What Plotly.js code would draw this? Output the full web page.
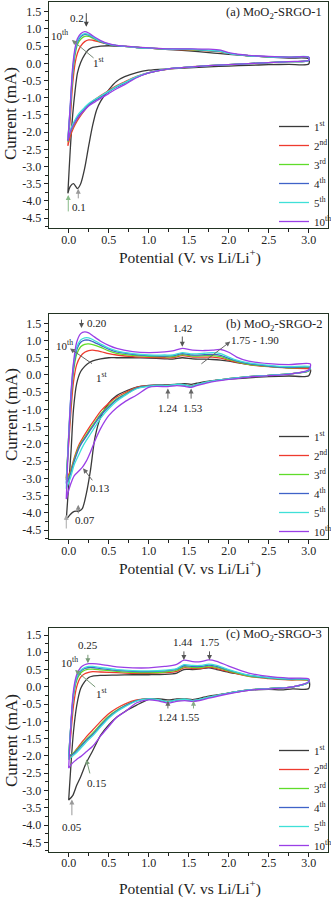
<!DOCTYPE html>
<html><head><meta charset="utf-8">
<script src="https://cdn.plot.ly/plotly-3.0.1.min.js"></script>
<style>html,body{margin:0;padding:0;background:#fff}#chart{width:331px;height:898px}</style>
</head><body><div id="chart"></div>
<script>
// ---------- data ----------
const cycleNames = ['1<sup>st</sup>','2<sup>nd</sup>','3<sup>rd</sup>','4<sup>th</sup>','5<sup>th</sup>','10<sup>th</sup>'];
const cycleColors = ['#3a3a3a','#ee3b2e','#5fdc2a','#3f63c8','#3fe0d8','#9a3fe6'];

const xTickVals = [0,0.5,1,1.5,2,2.5,3];
const xTickText = ['0.0','0.5','1.0','1.5','2.0','2.5','3.0'];
const yTickVals = [1.5,1,0.5,0,-0.5,-1,-1.5,-2,-2.5,-3,-3.5,-4,-4.5];
const yTickText = ['1.5','1.0','0.5','0.0','-0.5','-1.0','-1.5','-2.0','-2.5','-3.0','-3.5','-4.0','-4.5'];

// Panel (a) MoO2-SRGO-1
const potCathA = [3.0,2.75,2.5,2.25,2.0,1.75,1.5,1.25,1.0,0.85,0.7,0.6,0.5,0.4,0.35,0.3,0.25,0.2,0.15,0.11,0.06,0.02,-0.01];
const potAnodA = [-0.01,0.02,0.05,0.08,0.11,0.15,0.2,0.25,0.3,0.4,0.5,0.6,0.7,0.85,1.0,1.25,1.5,1.75,1.9,2.0,2.25,2.5,2.75,3.0];
const a1Cath  = [-0.02,-0.03,-0.04,-0.06,-0.08,-0.10,-0.13,-0.16,-0.20,-0.27,-0.39,-0.52,-0.77,-1.10,-1.35,-1.80,-2.40,-3.05,-3.50,-3.64,-3.50,-3.58,-3.78];
const a1Anod  = [-3.78,-2.50,-1.50,-0.80,-0.28,0.02,0.25,0.40,0.46,0.50,0.51,0.50,0.49,0.47,0.44,0.40,0.36,0.31,0.28,0.26,0.22,0.18,0.15,0.13];
const a2Cath  = [0.08,0.05,0.02,-0.01,-0.04,-0.07,-0.11,-0.17,-0.27,-0.38,-0.54,-0.65,-0.79,-0.94,-1.02,-1.10,-1.21,-1.36,-1.52,-1.66,-1.88,-2.12,-2.40];
const a2Anod  = [-2.40,-1.60,-0.60,0.00,0.30,0.50,0.63,0.68,0.67,0.61,0.55,0.51,0.49,0.46,0.44,0.41,0.39,0.36,0.33,0.29,0.22,0.19,0.17,0.17];
const a3Cath  = [0.08,0.05,0.02,-0.01,-0.04,-0.07,-0.11,-0.16,-0.28,-0.40,-0.57,-0.68,-0.82,-0.97,-1.04,-1.12,-1.22,-1.35,-1.48,-1.60,-1.82,-2.02,-2.28];
const a3Anod  = [-2.28,-1.35,-0.35,0.25,0.55,0.70,0.78,0.78,0.73,0.62,0.55,0.51,0.49,0.46,0.44,0.41,0.40,0.37,0.34,0.29,0.22,0.19,0.17,0.17];
const a4Cath  = [0.08,0.05,0.02,-0.01,-0.04,-0.07,-0.11,-0.16,-0.28,-0.40,-0.58,-0.69,-0.83,-0.98,-1.05,-1.12,-1.21,-1.33,-1.45,-1.57,-1.78,-1.98,-2.25];
const a4Anod  = [-2.25,-1.30,-0.25,0.33,0.62,0.77,0.84,0.82,0.76,0.63,0.55,0.51,0.49,0.46,0.44,0.41,0.41,0.37,0.35,0.29,0.22,0.19,0.17,0.17];
const a5Cath  = [0.08,0.05,0.02,-0.01,-0.04,-0.07,-0.11,-0.16,-0.27,-0.39,-0.56,-0.67,-0.81,-0.95,-1.02,-1.09,-1.17,-1.28,-1.40,-1.52,-1.73,-1.94,-2.20];
const a5Anod  = [-2.20,-1.25,-0.20,0.38,0.66,0.80,0.86,0.84,0.77,0.64,0.56,0.52,0.49,0.46,0.44,0.41,0.41,0.38,0.35,0.29,0.22,0.19,0.18,0.18];
const a10Cath = [0.09,0.05,0.02,-0.01,-0.04,-0.07,-0.11,-0.16,-0.28,-0.42,-0.62,-0.74,-0.88,-1.02,-1.09,-1.16,-1.24,-1.36,-1.48,-1.60,-1.80,-2.00,-2.25];
const a10Anod = [-2.25,-1.20,-0.10,0.45,0.72,0.86,0.92,0.88,0.80,0.66,0.57,0.52,0.50,0.47,0.45,0.42,0.42,0.41,0.38,0.31,0.23,0.20,0.18,0.18];

// Panel (b) MoO2-SRGO-2
const potCathB = [3.0,2.75,2.5,2.25,2.0,1.75,1.6,1.53,1.45,1.35,1.24,1.1,1.0,0.85,0.7,0.6,0.5,0.4,0.33,0.27,0.22,0.17,0.13,0.07,0.02,-0.03];
const potAnodB = [-0.03,0.0,0.03,0.06,0.1,0.15,0.2,0.25,0.3,0.4,0.5,0.6,0.8,1.0,1.2,1.3,1.42,1.55,1.7,1.8,1.9,2.0,2.1,2.25,2.5,2.75,3.02];
const b1Cath  = [-0.02,-0.03,-0.05,-0.08,-0.12,-0.18,-0.24,-0.27,-0.25,-0.27,-0.29,-0.29,-0.30,-0.35,-0.48,-0.60,-0.82,-1.22,-1.80,-2.80,-3.45,-3.88,-3.95,-3.96,-4.05,-4.20];
const b1Anod  = [-4.20,-3.20,-2.20,-1.00,-0.25,0.10,0.25,0.35,0.41,0.47,0.50,0.50,0.50,0.49,0.47,0.46,0.50,0.47,0.46,0.45,0.43,0.40,0.36,0.31,0.25,0.21,0.17];
const b2Cath  = [0.12,0.03,-0.01,-0.05,-0.11,-0.19,-0.28,-0.33,-0.29,-0.27,-0.31,-0.30,-0.31,-0.36,-0.52,-0.64,-0.82,-1.05,-1.28,-1.48,-1.66,-1.85,-2.02,-2.40,-2.80,-3.00];
const b2Anod  = [-3.00,-2.00,-1.00,-0.20,0.30,0.55,0.66,0.71,0.72,0.68,0.62,0.58,0.53,0.51,0.50,0.50,0.56,0.52,0.52,0.52,0.49,0.43,0.37,0.30,0.24,0.20,0.17];
const b3Cath  = [0.12,0.03,-0.01,-0.05,-0.11,-0.19,-0.28,-0.33,-0.29,-0.27,-0.31,-0.30,-0.32,-0.38,-0.56,-0.69,-0.89,-1.13,-1.36,-1.56,-1.74,-1.92,-2.08,-2.45,-2.85,-3.05];
const b3Anod  = [-3.05,-1.80,-0.70,0.10,0.60,0.82,0.89,0.90,0.88,0.80,0.70,0.63,0.57,0.54,0.53,0.53,0.59,0.55,0.56,0.56,0.53,0.45,0.39,0.31,0.25,0.21,0.20];
const b4Cath  = [0.12,0.03,-0.01,-0.05,-0.11,-0.19,-0.28,-0.33,-0.29,-0.27,-0.31,-0.30,-0.32,-0.38,-0.58,-0.72,-0.93,-1.17,-1.40,-1.60,-1.78,-1.95,-2.12,-2.50,-2.90,-3.15];
const b4Anod  = [-3.15,-1.80,-0.60,0.20,0.72,0.95,1.01,1.01,0.97,0.86,0.75,0.67,0.60,0.56,0.55,0.56,0.62,0.58,0.59,0.60,0.57,0.48,0.41,0.33,0.26,0.22,0.22];
const b5Cath  = [0.13,0.03,-0.01,-0.05,-0.11,-0.19,-0.28,-0.33,-0.29,-0.27,-0.31,-0.30,-0.33,-0.40,-0.60,-0.76,-0.98,-1.25,-1.50,-1.72,-1.90,-2.10,-2.30,-2.60,-3.00,-3.30];
const b5Anod  = [-3.30,-1.70,-0.50,0.30,0.80,1.02,1.08,1.08,1.03,0.90,0.78,0.70,0.62,0.58,0.58,0.58,0.65,0.61,0.63,0.65,0.62,0.52,0.43,0.35,0.28,0.24,0.24];
const b10Cath = [0.15,0.02,-0.02,-0.06,-0.13,-0.22,-0.31,-0.36,-0.33,-0.31,-0.34,-0.33,-0.36,-0.58,-0.78,-0.95,-1.18,-1.55,-1.90,-2.25,-2.50,-2.68,-2.78,-2.92,-3.20,-3.60];
const b10Anod = [-3.60,-1.80,-0.50,0.35,0.95,1.20,1.25,1.22,1.14,0.98,0.86,0.77,0.68,0.65,0.67,0.70,0.77,0.72,0.71,0.72,0.74,0.66,0.52,0.40,0.33,0.30,0.32];

// Panel (c) MoO2-SRGO-3
const potCathC = [3.0,2.8,2.65,2.5,2.25,2.0,1.75,1.6,1.55,1.45,1.35,1.24,1.1,1.0,0.85,0.7,0.6,0.5,0.4,0.3,0.22,0.15,0.1,0.05,0.0];
const potAnodC = [0.0,0.03,0.06,0.1,0.15,0.2,0.25,0.3,0.4,0.6,0.8,1.0,1.2,1.35,1.44,1.55,1.65,1.75,1.85,2.0,2.25,2.5,2.75,3.0];
const c1Cath  = [-0.05,-0.06,-0.09,-0.07,-0.10,-0.18,-0.27,-0.35,-0.37,-0.35,-0.35,-0.38,-0.34,-0.36,-0.53,-0.72,-0.88,-1.10,-1.40,-1.85,-2.20,-2.60,-2.85,-3.15,-3.28];
const c1Anod  = [-3.28,-2.20,-1.30,-0.55,-0.05,0.15,0.27,0.31,0.33,0.34,0.35,0.35,0.36,0.40,0.50,0.50,0.52,0.55,0.50,0.42,0.33,0.26,0.22,0.19];
const c2Cath  = [0.13,0.00,-0.03,-0.05,-0.09,-0.18,-0.30,-0.38,-0.40,-0.36,-0.38,-0.43,-0.36,-0.34,-0.38,-0.50,-0.62,-0.78,-1.00,-1.25,-1.45,-1.65,-1.80,-1.95,-2.10];
const c2Anod  = [-2.10,-1.30,-0.55,0.00,0.28,0.38,0.42,0.44,0.43,0.41,0.39,0.39,0.41,0.45,0.55,0.53,0.53,0.57,0.53,0.44,0.30,0.24,0.20,0.18];
const c3Cath  = [0.13,0.00,-0.03,-0.05,-0.09,-0.18,-0.30,-0.38,-0.40,-0.36,-0.38,-0.43,-0.36,-0.35,-0.40,-0.55,-0.68,-0.85,-1.08,-1.34,-1.52,-1.70,-1.82,-1.94,-2.00];
const c3Anod  = [-2.00,-1.05,-0.28,0.18,0.40,0.48,0.51,0.51,0.49,0.45,0.42,0.41,0.43,0.48,0.58,0.56,0.56,0.60,0.56,0.46,0.31,0.25,0.21,0.19];
const c4Cath  = [0.13,0.00,-0.03,-0.05,-0.09,-0.18,-0.30,-0.38,-0.40,-0.36,-0.38,-0.43,-0.36,-0.35,-0.40,-0.56,-0.70,-0.88,-1.12,-1.38,-1.55,-1.73,-1.85,-1.96,-2.00];
const c4Anod  = [-2.00,-1.00,-0.22,0.25,0.45,0.53,0.56,0.56,0.53,0.48,0.45,0.44,0.46,0.51,0.61,0.59,0.59,0.63,0.59,0.48,0.33,0.26,0.22,0.20];
const c5Cath  = [0.14,0.00,-0.03,-0.05,-0.09,-0.18,-0.30,-0.38,-0.40,-0.36,-0.38,-0.43,-0.36,-0.35,-0.41,-0.58,-0.72,-0.91,-1.16,-1.42,-1.60,-1.78,-1.90,-2.00,-2.10];
const c5Anod  = [-2.10,-1.00,-0.20,0.28,0.48,0.56,0.59,0.59,0.56,0.50,0.47,0.46,0.48,0.53,0.64,0.62,0.62,0.66,0.62,0.50,0.34,0.27,0.23,0.21];
const c10Cath = [0.15,0.00,-0.04,-0.06,-0.10,-0.20,-0.33,-0.41,-0.42,-0.40,-0.42,-0.47,-0.40,-0.38,-0.46,-0.73,-0.88,-1.15,-1.42,-1.72,-1.88,-2.02,-2.10,-2.20,-2.35];
const c10Anod = [-2.35,-1.00,-0.10,0.35,0.56,0.64,0.67,0.67,0.65,0.58,0.55,0.55,0.59,0.65,0.77,0.73,0.73,0.78,0.74,0.60,0.40,0.30,0.25,0.23];

// ---------- build ----------
const FONT = 'Liberation Serif, Times New Roman, serif';
const panels = [
  {potC: potCathA, potA: potAnodA, cath: [a1Cath,a2Cath,a3Cath,a4Cath,a5Cath,a10Cath], anod: [a1Anod,a2Anod,a3Anod,a4Anod,a5Anod,a10Anod], xa:'x', ya:'y', lg:'legend'},
  {potC: potCathB, potA: potAnodB, cath: [b1Cath,b2Cath,b3Cath,b4Cath,b5Cath,b10Cath], anod: [b1Anod,b2Anod,b3Anod,b4Anod,b5Anod,b10Anod], xa:'x2', ya:'y2', lg:'legend2'},
  {potC: potCathC, potA: potAnodC, cath: [c1Cath,c2Cath,c3Cath,c4Cath,c5Cath,c10Cath], anod: [c1Anod,c2Anod,c3Anod,c4Anod,c5Anod,c10Anod], xa:'x3', ya:'y3', lg:'legend3'}
];
const traces = [];
panels.forEach(p => {
  for (let i = 0; i < 6; i++) {
    traces.push({
      type: 'scatter', mode: 'lines',
      x: p.potC.concat(p.potA, [p.potC[0]]),
      y: p.cath[i].concat(p.anod[i], [p.cath[i][0]]),
      name: cycleNames[i],
      line: {color: cycleColors[i], width: 1.3, shape: 'spline', smoothing: 0.8},
      xaxis: p.xa, yaxis: p.ya, legend: p.lg
    });
  }
});

function xa(anchor) {
  return {anchor: anchor, range: [-0.246, 3.241], tickvals: xTickVals, ticktext: xTickText,
    ticks: 'outside', ticklen: 4, tickwidth: 1, tickcolor: '#222', ticklabelstandoff: -4,
    minor: {tickvals: [-0.25,0.25,0.75,1.25,1.75,2.25,2.75], ticks: 'outside', ticklen: 2.5, tickcolor: '#222'},
    showline: true, mirror: true, linecolor: '#223322', linewidth: 1.3,
    showgrid: false, zeroline: false, tickfont: {family: FONT, size: 12, color: '#222'}};
}
function ya(anchor, dom, rng) {
  return {anchor: anchor, domain: dom, range: rng, tickvals: yTickVals, ticktext: yTickText,
    ticks: 'outside', ticklen: 4, tickwidth: 1, tickcolor: '#222',
    minor: {tickvals: [1.25,0.75,0.25,-0.25,-0.75,-1.25,-1.75,-2.25,-2.75,-3.25,-3.75,-4.25,-4.75], ticks: 'outside', ticklen: 2.5, tickcolor: '#222'},
    showline: true, mirror: true, linecolor: '#223322', linewidth: 1.3,
    showgrid: false, zeroline: false, tickfont: {family: FONT, size: 12, color: '#222'}};
}
const H = 898, L = 49, PW = 279;
const px2x = v => (v - L) / PW;
const py2y = v => 1 - v / H;
function leg(ytop) {
  return {x: px2x(274), y: ytop, xanchor: 'left', yanchor: 'top', bgcolor: 'rgba(0,0,0,0)',
    font: {family: FONT, size: 11, color: '#222'}, tracegroupgap: 0};
}

const ann = [];
function label(t, x, y, xr, yr, size) {
  ann.push({text: t, x: x, y: y, xref: xr, yref: yr, showarrow: false, xanchor: 'center', yanchor: 'middle',
    font: {family: FONT, size: size || 11, color: '#222'}});
}
function arrow(hx, hy, tx, ty, xr, yr, col) {
  ann.push({text: '', x: hx, y: hy, ax: tx, ay: ty, xref: xr, yref: yr, axref: xr, ayref: yr,
    showarrow: true, arrowhead: 2, arrowsize: 1, arrowwidth: 1, arrowcolor: col || '#666'});
}
// panel titles
[['(a) MoO<sub>2</sub>-SRGO-1', 13.3], ['(b) MoO<sub>2</sub>-SRGO-2', 325], ['(c) MoO<sub>2</sub>-SRGO-3', 635]].forEach(t => {
  ann.push({text: t[0], x: px2x(324), y: py2y(t[1]), xref: 'paper', yref: 'paper', xanchor: 'right', yanchor: 'middle',
    showarrow: false, font: {family: FONT, size: 12.5, color: '#222'}});
});
// axis titles
[114, 415, 741].forEach(cy => {
  ann.push({text: 'Current (mA)', x: px2x(11), y: py2y(cy), xref: 'paper', yref: 'paper', textangle: -90,
    showarrow: false, xanchor: 'center', yanchor: 'middle', font: {family: FONT, size: 17, color: '#222'}});
});
[256, 567, 887].forEach(cy => {
  ann.push({text: 'Potential (V. vs Li/Li<sup>+</sup>)', x: px2x(190), y: py2y(cy), xref: 'paper', yref: 'paper',
    showarrow: false, xanchor: 'center', yanchor: 'middle', font: {family: FONT, size: 15.5, color: '#222'}});
});
// panel a marks
label('0.2', 0.10, 1.31, 'x', 'y');
arrow(0.22, 1.06, 0.22, 1.5, 'x', 'y', '#444');
label('10<sup>th</sup>', -0.11, 0.82, 'x', 'y');
arrow(0.04, 0.68, 0.33, 0.12, 'x', 'y', '#778877');
label('1<sup>st</sup>', 0.37, 0.03, 'x', 'y');
label('0.1', 0.13, -4.17, 'x', 'y');
arrow(0.12, -3.65, 0.12, -3.97, 'x', 'y', '#999');
arrow(-0.005, -3.83, -0.005, -4.35, 'x', 'y', '#88bb88');
// panel b marks
label('0.20', 0.36, 1.5, 'x2', 'y2');
arrow(0.16, 1.36, 0.16, 1.65, 'x2', 'y2', '#555');
label('10<sup>th</sup>', -0.05, 0.87, 'x2', 'y2');
arrow(0.016, 0.77, 0.31, 0.30, 'x2', 'y2', '#666');
label('1<sup>st</sup>', 0.41, -0.05, 'x2', 'y2');
label('1.42', 1.42, 1.35, 'x2', 'y2');
arrow(1.42, 0.82, 1.42, 1.16, 'x2', 'y2', '#555');
label('1.75 - 1.90', 2.33, 1.02, 'x2', 'y2');
arrow(2.02, 0.97, 1.64, 0.29, 'x2', 'y2', '#666');
label('1.24', 1.245, -0.97, 'x2', 'y2');
arrow(1.24, -0.39, 1.24, -0.73, 'x2', 'y2', '#666');
label('1.53', 1.55, -0.97, 'x2', 'y2');
arrow(1.53, -0.39, 1.53, -0.73, 'x2', 'y2', '#666');
label('0.13', 0.39, -3.29, 'x2', 'y2');
arrow(0.18, -2.71, 0.31, -3.10, 'x2', 'y2', '#666');
label('0.07', 0.20, -4.21, 'x2', 'y2');
arrow(0.12, -3.77, 0.12, -4.06, 'x2', 'y2', '#888');
arrow(-0.03, -4.06, -0.03, -4.5, 'x2', 'y2', '#aaa');
// panel c marks
label('0.25', 0.245, 1.21, 'x3', 'y3');
arrow(0.24, 0.68, 0.24, 0.97, 'x3', 'y3', '#779977');
label('10<sup>th</sup>', 0.016, 0.73, 'x3', 'y3');
arrow(0.08, 0.49, 0.35, -0.04, 'x3', 'y3', '#779977');
label('1<sup>st</sup>', 0.41, -0.19, 'x3', 'y3');
label('1.44', 1.43, 1.31, 'x3', 'y3');
arrow(1.44, 0.78, 1.44, 1.07, 'x3', 'y3', '#555');
label('1.75', 1.765, 1.31, 'x3', 'y3');
arrow(1.76, 0.78, 1.76, 1.07, 'x3', 'y3', '#555');
label('1.24', 1.245, -0.86, 'x3', 'y3');
arrow(1.24, -0.40, 1.24, -0.67, 'x3', 'y3', '#666');
label('1.55', 1.52, -0.86, 'x3', 'y3');
arrow(1.56, -0.40, 1.56, -0.67, 'x3', 'y3', '#88aa88');
label('0.15', 0.35, -2.79, 'x3', 'y3');
arrow(0.22, -2.10, 0.27, -2.55, 'x3', 'y3', '#779977');
label('0.05', 0.04, -4.05, 'x3', 'y3');
arrow(0.04, -3.26, 0.04, -3.76, 'x3', 'y3', '#999');

const layout = {
  width: 331, height: 898, margin: {l: L, r: 331 - L - PW, t: 0, b: 0, autoexpand: false},
  paper_bgcolor: '#fff', plot_bgcolor: '#fff', showlegend: true,
  font: {family: FONT, color: '#222'},
  xaxis: xa('y'), yaxis: ya('x', [1 - 228/H, 1 - 2/H], [-4.788, 1.782]),
  xaxis2: xa('y2'), yaxis2: ya('x2', [1 - 539/H, 1 - 314/H], [-4.761, 1.77]),
  xaxis3: xa('y3'), yaxis3: ya('x3', [1 - 851.7/H, 1 - 628/H], [-4.772, 1.703]),
  legend: leg(py2y(112)), legend2: leg(py2y(422)), legend3: leg(py2y(736)),
  annotations: ann
};
Plotly.newPlot('chart', traces, layout, {staticPlot: true, displayModeBar: false});
</script></body></html>
